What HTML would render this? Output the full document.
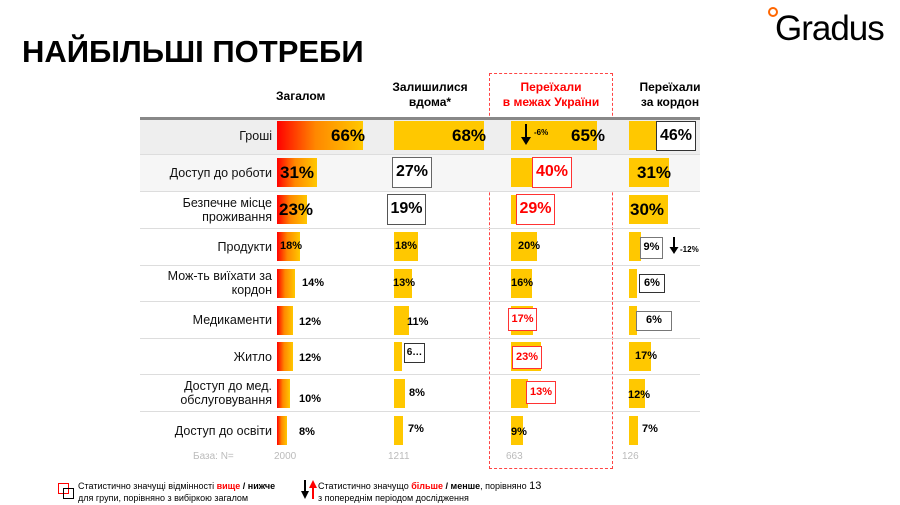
<!DOCTYPE html>
<html><head><meta charset="utf-8"><style>
body{margin:0;width:900px;height:505px;background:#fff;position:relative;overflow:hidden;font-family:"Liberation Sans",sans-serif;color:#000}
.a{position:absolute}
.t{font-weight:bold}
.lbl{position:absolute;right:628px;text-align:right;font-size:12.5px;line-height:14px;color:#111}
.bar{position:absolute;background:#ffc800}
.g{background:linear-gradient(90deg,#f00 0,#f80 45%,#ffc800 100%)}
.v{position:absolute;font-weight:bold;white-space:nowrap}
.bx{position:absolute;border:1.5px solid #333;background:#fff;font-weight:bold;text-align:center;box-sizing:border-box}
.rb{border-color:#f33;color:#f00}
</style></head><body>
<div class="a t" style="left:22px;top:34px;font-size:31px">НАЙБІЛЬШІ ПОТРЕБИ</div>
<div class="a" style="left:768px;top:7px;width:6px;height:6px;border:2px solid #f60;border-radius:50%"></div>
<div class="a" style="left:775px;top:9px;font-size:35px;letter-spacing:-1px">Gradus</div>

<div class="a t" style="left:276px;top:89px;font-size:12px">Загалом</div>
<div class="a t" style="left:380px;top:80px;font-size:12px;text-align:center;width:100px;line-height:15px">Залишилися<br>вдома*</div>
<div class="a t" style="left:490px;top:80px;font-size:12px;text-align:center;width:122px;line-height:15px;color:#f00">Переїхали<br>в межах України</div>
<div class="a t" style="left:620px;top:80px;font-size:12px;text-align:center;width:100px;line-height:15px">Переїхали<br>за кордон</div>

<div class="a" style="left:489px;top:73px;width:122px;height:394px;border:1px dashed #f44"></div>

<div class="a" style="left:140px;top:117px;width:560px;height:3px;background:#888"></div>
<div class="a" style="left:140px;top:120px;width:560px;height:34px;background:#eee"></div>
<div class="a" style="left:140px;top:155px;width:560px;height:36px;background:#f6f6f6"></div>
<div class="a" style="left:140px;top:154px;width:560px;height:1px;background:#ddd"></div>
<div class="a" style="left:140px;top:191px;width:560px;height:1px;background:#ddd"></div>
<div class="a" style="left:140px;top:228px;width:560px;height:1px;background:#ddd"></div>
<div class="a" style="left:140px;top:265px;width:560px;height:1px;background:#ddd"></div>
<div class="a" style="left:140px;top:301px;width:560px;height:1px;background:#ddd"></div>
<div class="a" style="left:140px;top:338px;width:560px;height:1px;background:#ddd"></div>
<div class="a" style="left:140px;top:374px;width:560px;height:1px;background:#ddd"></div>
<div class="a" style="left:140px;top:411px;width:560px;height:1px;background:#ddd"></div>

<!-- labels -->
<div class="lbl" style="top:129px">Гроші</div>
<div class="lbl" style="top:166px">Доступ до роботи</div>
<div class="lbl" style="top:196px">Безпечне місце<br>проживання</div>
<div class="lbl" style="top:240px">Продукти</div>
<div class="lbl" style="top:269px">Мож-ть виїхати за<br>кордон</div>
<div class="lbl" style="top:313px">Медикаменти</div>
<div class="lbl" style="top:350px">Житло</div>
<div class="lbl" style="top:379px">Доступ до мед.<br>обслуговування</div>
<div class="lbl" style="top:424px">Доступ до освіти</div>

<!-- col1 -->
<div class="bar g" style="left:277px;top:121px;width:86px;height:29px"></div><div class="v" style="left:331px;top:126px;font-size:17px">66%</div>
<div class="bar g" style="left:277px;top:158px;width:40px;height:29px"></div><div class="v" style="left:280px;top:163px;font-size:17px">31%</div>
<div class="bar g" style="left:277px;top:195px;width:30px;height:29px"></div><div class="v" style="left:279px;top:200px;font-size:17px">23%</div>
<div class="bar g" style="left:277px;top:232px;width:23px;height:29px"></div><div class="v" style="left:280px;top:240px;font-size:11px">18%</div>
<div class="bar g" style="left:277px;top:269px;width:18px;height:29px"></div><div class="v" style="left:302px;top:277px;font-size:11px">14%</div>
<div class="bar g" style="left:277px;top:306px;width:16px;height:29px"></div><div class="v" style="left:299px;top:316px;font-size:11px">12%</div>
<div class="bar g" style="left:277px;top:342px;width:16px;height:29px"></div><div class="v" style="left:299px;top:352px;font-size:11px">12%</div>
<div class="bar g" style="left:277px;top:379px;width:13px;height:29px"></div><div class="v" style="left:299px;top:393px;font-size:11px">10%</div>
<div class="bar g" style="left:277px;top:416px;width:10px;height:29px"></div><div class="v" style="left:299px;top:426px;font-size:11px">8%</div>

<!-- col2 -->
<div class="bar" style="left:394px;top:121px;width:90px;height:29px"></div><div class="v" style="left:452px;top:126px;font-size:17px">68%</div>
<div class="bx" style="left:392px;top:157px;width:40px;height:31px;font-size:16px;line-height:28px;border-color:#666">27%</div>
<div class="bx" style="left:387px;top:194px;width:39px;height:31px;font-size:16px;line-height:28px;border-color:#555">19%</div>
<div class="bar" style="left:394px;top:232px;width:24px;height:29px"></div><div class="v" style="left:395px;top:240px;font-size:11px">18%</div>
<div class="bar" style="left:394px;top:269px;width:18px;height:29px"></div><div class="v" style="left:393px;top:277px;font-size:11px">13%</div>
<div class="bar" style="left:394px;top:306px;width:15px;height:29px"></div><div class="v" style="left:407px;top:316px;font-size:11px">11%</div>
<div class="bar" style="left:394px;top:342px;width:8px;height:29px"></div><div class="bx" style="left:404px;top:343px;width:21px;height:20px;font-size:10px;line-height:17px">6…</div>
<div class="bar" style="left:394px;top:379px;width:11px;height:29px"></div><div class="v" style="left:409px;top:387px;font-size:11px">8%</div>
<div class="bar" style="left:394px;top:416px;width:9px;height:29px"></div><div class="v" style="left:408px;top:423px;font-size:11px">7%</div>

<!-- col3 -->
<div class="bar" style="left:511px;top:121px;width:86px;height:29px"></div>
<svg class="a" style="left:520px;top:124px" width="12" height="22"><rect x="5" y="0" width="2" height="15" fill="#000"/><path d="M1 13 L11 13 L6 21Z" fill="#000"/></svg>
<div class="v" style="left:534px;top:128px;font-size:8px">-6%</div>
<div class="v" style="left:571px;top:126px;font-size:17px">65%</div>
<div class="bar" style="left:511px;top:158px;width:52px;height:29px"></div><div class="bx rb" style="left:532px;top:157px;width:40px;height:31px;font-size:16px;line-height:28px">40%</div>
<div class="bar" style="left:511px;top:195px;width:38px;height:29px"></div><div class="bx rb" style="left:516px;top:194px;width:39px;height:31px;font-size:16px;line-height:28px">29%</div>
<div class="bar" style="left:511px;top:232px;width:26px;height:29px"></div><div class="v" style="left:518px;top:240px;font-size:11px">20%</div>
<div class="bar" style="left:511px;top:269px;width:21px;height:29px"></div><div class="v" style="left:511px;top:277px;font-size:11px">16%</div>
<div class="bar" style="left:511px;top:306px;width:22px;height:29px"></div><div class="bx rb" style="left:508px;top:308px;width:29px;height:23px;font-size:11px;line-height:20px">17%</div>
<div class="bar" style="left:511px;top:342px;width:30px;height:29px"></div><div class="bx rb" style="left:512px;top:346px;width:30px;height:23px;font-size:11px;line-height:20px">23%</div>
<div class="bar" style="left:511px;top:379px;width:17px;height:29px"></div><div class="bx rb" style="left:526px;top:381px;width:30px;height:23px;font-size:11px;line-height:20px">13%</div>
<div class="bar" style="left:511px;top:416px;width:12px;height:29px"></div><div class="v" style="left:511px;top:426px;font-size:11px">9%</div>

<!-- col4 -->
<div class="bar" style="left:629px;top:121px;width:60px;height:29px"></div><div class="bx" style="left:656px;top:121px;width:40px;height:30px;font-size:16px;line-height:27px">46%</div>
<div class="bar" style="left:629px;top:158px;width:40px;height:29px"></div><div class="v" style="left:637px;top:163px;font-size:17px">31%</div>
<div class="bar" style="left:629px;top:195px;width:39px;height:29px"></div><div class="v" style="left:630px;top:200px;font-size:17px">30%</div>
<div class="bar" style="left:629px;top:232px;width:12px;height:29px"></div><div class="bx" style="left:640px;top:237px;width:23px;height:22px;font-size:11px;line-height:19px;border-color:#777">9%</div>
<svg class="a" style="left:669px;top:237px" width="10" height="18"><rect x="4" y="0" width="2" height="12" fill="#000"/><path d="M0.5 10 L9.5 10 L5 17Z" fill="#000"/></svg>
<div class="v" style="left:680px;top:245px;font-size:8px">-12%</div>
<div class="bar" style="left:629px;top:269px;width:8px;height:29px"></div><div class="bx" style="left:639px;top:274px;width:26px;height:19px;font-size:11px;line-height:16px">6%</div>
<div class="bar" style="left:629px;top:306px;width:8px;height:29px"></div><div class="bx" style="left:636px;top:311px;width:36px;height:20px;font-size:11px;line-height:17px;border-color:#777">6%</div>
<div class="bar" style="left:629px;top:342px;width:22px;height:29px"></div><div class="v" style="left:635px;top:350px;font-size:11px">17%</div>
<div class="bar" style="left:629px;top:379px;width:16px;height:29px"></div><div class="v" style="left:628px;top:389px;font-size:11px">12%</div>
<div class="bar" style="left:629px;top:416px;width:9px;height:29px"></div><div class="v" style="left:642px;top:423px;font-size:11px">7%</div>

<!-- base -->
<div class="a" style="left:193px;top:451px;font-size:10px;color:#bbb">База: N=</div>
<div class="a" style="left:274px;top:451px;font-size:10px;color:#bbb">2000</div>
<div class="a" style="left:388px;top:451px;font-size:10px;color:#bbb">1211</div>
<div class="a" style="left:506px;top:451px;font-size:10px;color:#bbb">663</div>
<div class="a" style="left:622px;top:451px;font-size:10px;color:#bbb">126</div>

<!-- legend -->
<div class="a" style="left:58px;top:483px;width:9px;height:9px;border:1.5px solid #f00"></div>
<div class="a" style="left:63px;top:488px;width:9px;height:9px;border:1.5px solid #000"></div>
<div class="a" style="left:78px;top:480px;font-size:9px;line-height:12px">Статистично значущі відмінності <b style="color:#f00">вище</b> <b>/ нижче</b><br>для групи, порівняно з вибіркою загалом</div>
<svg class="a" style="left:301px;top:480px" width="16" height="20"><rect x="3" y="0" width="2" height="13" fill="#000"/><path d="M0 11 L8 11 L4 19Z" fill="#000"/><rect x="11" y="6" width="2" height="13" fill="#f00"/><path d="M8 8 L16 8 L12 0Z" fill="#f00"/></svg>
<div class="a" style="left:318px;top:480px;font-size:9px;line-height:12px">Статистично значущо <b style="color:#f00">більше</b> <b>/ менше</b>, порівняно <span style="font-size:11px">13</span><br>з попереднім періодом дослідження</div>
</body></html>
